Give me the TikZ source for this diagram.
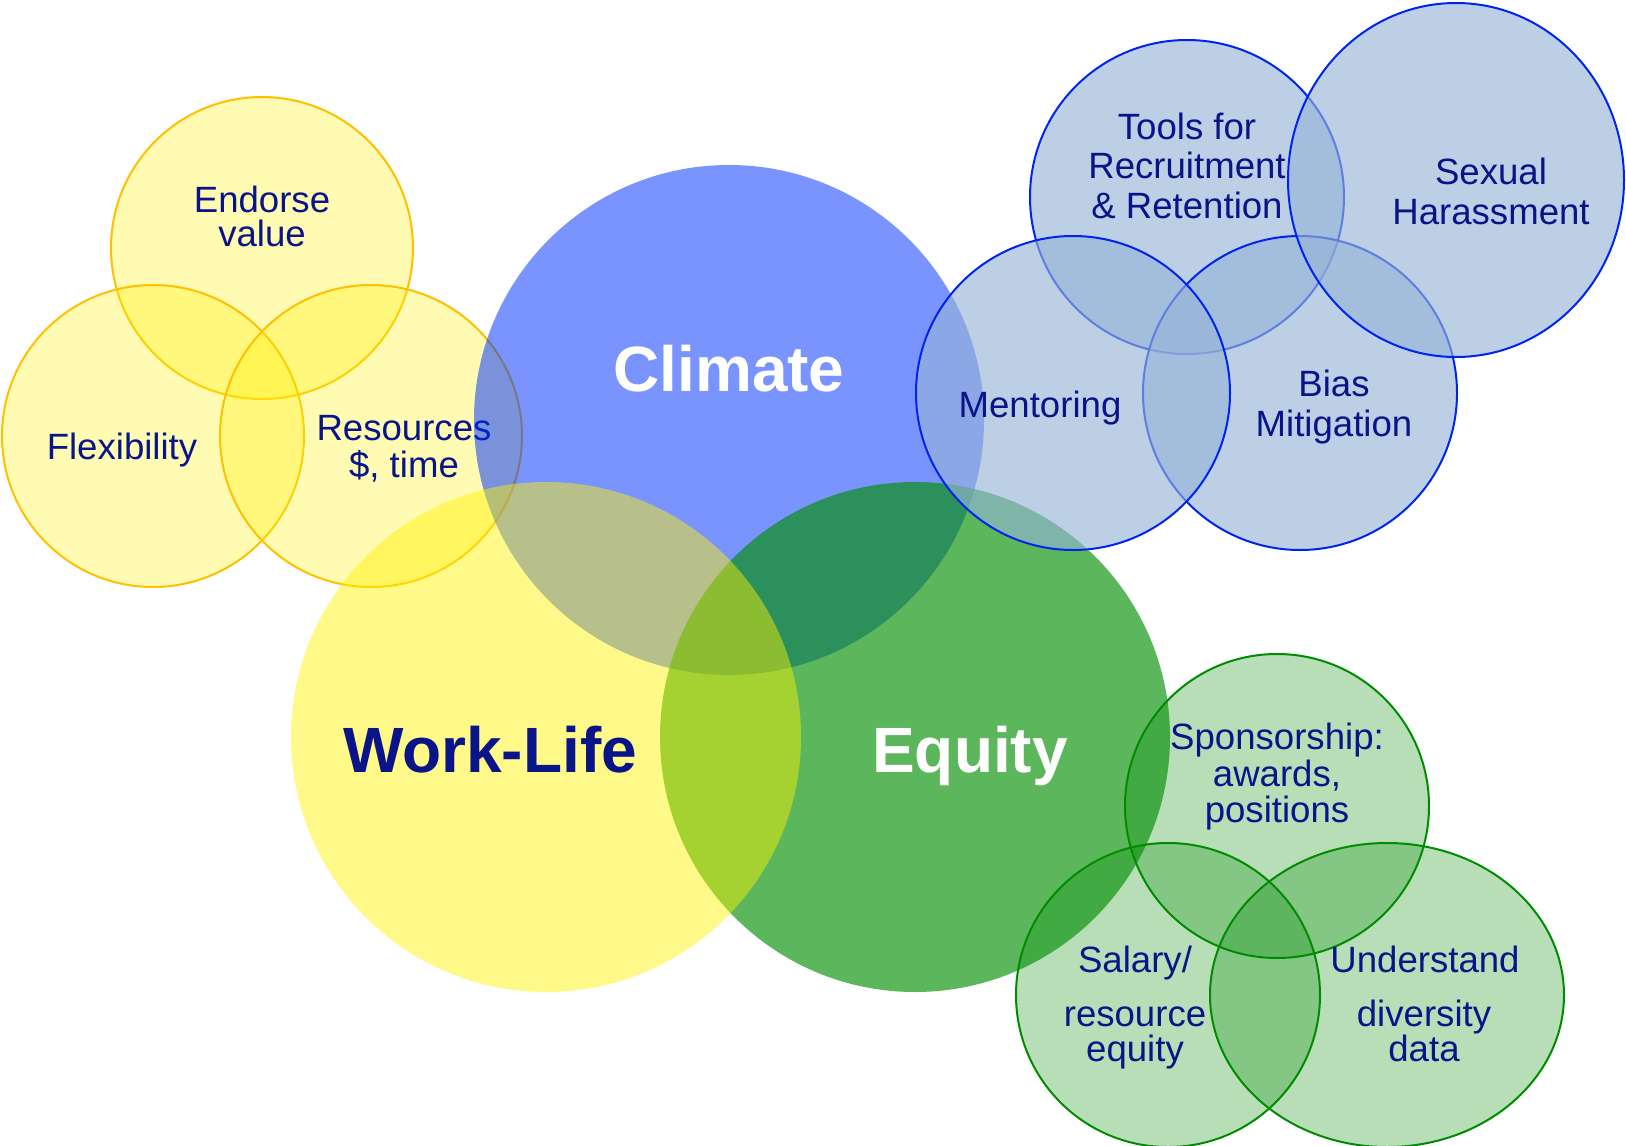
\documentclass[tikz,border=0pt]{standalone}
\usepackage{fontspec}
\setmainfont{Liberation Sans}
\definecolor{navytxt}{RGB}{8,20,136}
\definecolor{goldline}{RGB}{255,192,0}
\definecolor{climatec}{RGB}{0,51,255}
\definecolor{equityc}{RGB}{0,143,0}
\definecolor{lblue}{RGB}{149,179,215}
\definecolor{blueline}{RGB}{0,36,240}
\definecolor{lgreen}{RGB}{0,137,0}
\definecolor{greenline}{RGB}{0,140,0}
\begin{document}
\begin{tikzpicture}[x=1pt,y=-1pt,
 ysmall/.style={fill=yellow, fill opacity=0.3, draw=goldline, line width=2pt},
 bsmall/.style={fill=lblue, fill opacity=0.63, draw=blueline, line width=2pt},
 gsmall/.style={fill=lgreen, fill opacity=0.28, draw=greenline, line width=2pt},
 lbl/.style={text=navytxt, font=\fontsize{36.6}{36.6}\selectfont, anchor=base, inner sep=0pt},
 big/.style={font=\fontsize{64}{64}\selectfont\bfseries, anchor=base, inner sep=0pt}]
\fill[white] (0,0) rectangle (1626,1146);
\useasboundingbox (0,0) rectangle (1626,1146);
% small yellow circles
\draw[ysmall] (262,248) ellipse [x radius=151pt, y radius=151pt];
\draw[ysmall] (153,436) ellipse [x radius=151pt, y radius=151pt];
\draw[ysmall] (371,436) ellipse [x radius=151pt, y radius=151pt];
\node[lbl] (endorse1) at (262,212) {Endorse};
\node[lbl] (endorse2) at (262,246) {value};
\node[lbl] (flex) at (122,459) {Flexibility};
\node[lbl] (res1) at (404,440) {Resources};
\node[lbl] (res2) at (404,477) {\$, time};
% main circles
\fill[climatec, fill opacity=0.52] (729,420) ellipse [x radius=255pt, y radius=255pt];
\fill[equityc, fill opacity=0.64] (915,737) ellipse [x radius=255pt, y radius=255pt];
\fill[yellow, fill opacity=0.46] (546,737) ellipse [x radius=255pt, y radius=255pt];
\node[big, text=white] (climate) at (729,391) {Climate};
\node[big, text=navytxt] (worklife) at (490,772) {Work-Life};
\node[big, text=white] (equity) at (970,772) {Equity};
% small blue circles
\draw[bsmall] (1187,197) ellipse [x radius=157pt, y radius=157pt];
\draw[bsmall] (1300,393) ellipse [x radius=157pt, y radius=157pt];
\draw[bsmall] (1073,393) ellipse [x radius=157pt, y radius=157pt];
\draw[bsmall] (1456,180) ellipse [x radius=168pt, y radius=177pt];
% small green circles
\draw[gsmall] (1277,806) ellipse [x radius=152pt, y radius=152pt];
\draw[gsmall] (1168,995) ellipse [x radius=152pt, y radius=152pt];
\draw[gsmall] (1387,995) ellipse [x radius=177pt, y radius=152pt];
% blue labels
\node[lbl] (tools1) at (1187,139) {Tools for};
\node[lbl] (tools2) at (1187,178) {Recruitment};
\node[lbl] (tools3) at (1187,218) {\& Retention};
\node[lbl] (sex1) at (1491,184) {Sexual};
\node[lbl] (sex2) at (1491,224) {Harassment};
\node[lbl] (mentor) at (1040,417) {Mentoring};
\node[lbl] (bias1) at (1334,396) {Bias};
\node[lbl] (bias2) at (1334,436) {Mitigation};
% green labels
\node[lbl] (spon1) at (1277,749) {Sponsorship:};
\node[lbl] (spon2) at (1277,786) {awards,};
\node[lbl] (spon3) at (1277,822) {positions};
\node[lbl] (sal1) at (1135,972) {Salary/};
\node[lbl] (sal2) at (1135,1026) {resource};
\node[lbl] (sal3) at (1135,1061) {equity};
\node[lbl] (und1) at (1425,972) {Understand};
\node[lbl] (und2) at (1424,1026) {diversity};
\node[lbl] (und3) at (1424,1061) {data};
\end{tikzpicture}
\end{document}
